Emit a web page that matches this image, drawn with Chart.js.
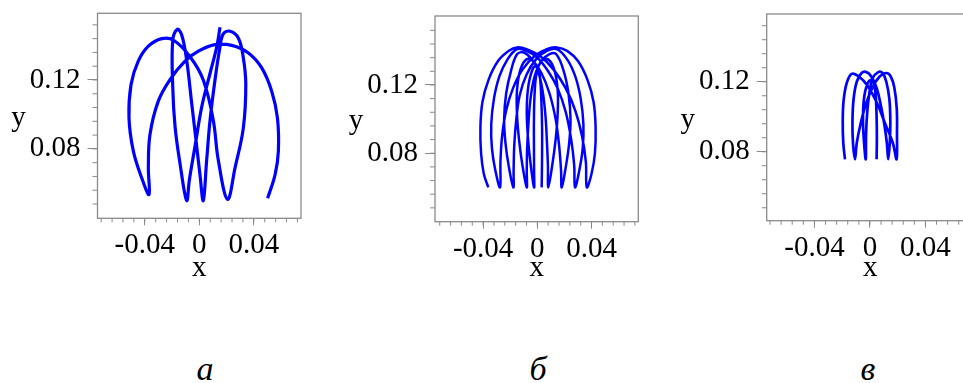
<!DOCTYPE html>
<html><head><meta charset="utf-8">
<script src="https://cdn.jsdelivr.net/npm/chart.js@4"></script>
<style>
html,body{margin:0;padding:0;background:#fff;}
body{width:963px;height:383px;overflow:hidden;position:relative;}
canvas{position:absolute;top:0;}
.cap{position:absolute;font-family:'Liberation Serif',serif;font-style:italic;font-size:34px;line-height:34px;top:352px;width:40px;text-align:center;color:#000;}
</style></head><body>
<canvas id="ca"></canvas>
<canvas id="cb"></canvas>
<canvas id="cc"></canvas>
<div class="cap" style="left:185px">а</div>
<div class="cap" style="left:518px">б</div>
<div class="cap" style="left:848px">в</div>
<script>
// ---- data ----
const xTickValues = [-0.04, 0, 0.04];
const xTickLabels = ['-0.04', '0', '0.04'];
const yTickValues = [0.08, 0.12];
const yTickLabels = ['0.08', '0.12'];

// panel а trajectory
const aX = [0.0152,0.0128,0.0079,0.0018,-0.0032,-0.0073,-0.0093,-0.0142,-0.0178,-0.0195,-0.0195,-0.0162,-0.0129,-0.0093,-0.0056,-0.0019,0.0005,0.0029,0.0054,0.0079,0.0115,0.0152,0.0176,0.0225,0.0286,0.0323,0.0341,0.0323,0.0262,0.0207,0.0139,0.0102,0.0029,-0.0068,-0.0191,-0.0276,-0.0374,-0.0448,-0.0501,-0.0516,-0.0484,-0.0423,-0.0369,-0.0374,-0.0362,-0.0301,-0.0215,-0.0105,-0.0007,0.0115,0.0238,0.0360,0.0458,0.0531,0.0573,0.0580,0.0556,0.0501];
const aY = [0.1506,0.1393,0.1239,0.1045,0.0813,0.0620,0.0500,0.0717,0.0929,0.1161,0.1432,0.1494,0.1461,0.1316,0.1065,0.0813,0.0649,0.0500,0.0736,0.0968,0.1200,0.1393,0.1467,0.1483,0.1444,0.1328,0.1173,0.0922,0.0690,0.0507,0.0736,0.0968,0.1200,0.1335,0.1432,0.1440,0.1396,0.1309,0.1173,0.0980,0.0787,0.0632,0.0535,0.0690,0.0883,0.1077,0.1202,0.1309,0.1367,0.1405,0.1401,0.1357,0.1270,0.1135,0.0980,0.0787,0.0651,0.0513];

// panel б trajectory
const bX = [-0.0362,-0.0395,-0.0415,-0.042,-0.0405,-0.036,-0.029,-0.021,-0.015,-0.008,0.002,0.012,0.021,0.028,0.033,0.0358,0.0365,
 0.040,0.0425,0.043,0.0415,0.037,0.030,0.022,0.0143,0.007,-0.002,-0.011,-0.018,-0.023,-0.026,-0.0272,-0.0275,
 -0.031,-0.0335,-0.034,-0.032,-0.028,-0.022,-0.015,-0.008,0.000,0.008,0.015,0.021,0.025,0.0272,0.0278,
 0.031,0.0335,0.034,0.032,0.028,0.022,0.0143,0.007,-0.001,-0.008,-0.013,-0.0155,-0.017,-0.0175,-0.0177,
 -0.021,-0.0235,-0.0245,-0.023,-0.0195,-0.015,-0.010,-0.004,0.003,0.009,0.0135,0.016,0.0175,0.018,
 0.021,0.0235,0.0245,0.023,0.0195,0.014,0.009,0.003,-0.002,-0.005,-0.0065,-0.0075,-0.0078,-0.0078,
 -0.011,-0.0135,-0.015,-0.015,-0.0125,-0.008,-0.003,0.001,0.004,0.006,0.007,0.0078,0.0081,
 0.011,0.0135,0.015,0.015,0.0125,0.008,0.003,-0.0005,-0.002,-0.0025,-0.0025,-0.0024,-0.0024,
 -0.005,-0.007,-0.0078,-0.0065,-0.003,0.000,0.002,0.003,0.0035,0.0035,0.0032];
const bY = [0.060,0.068,0.080,0.095,0.110,0.123,0.134,0.140,0.142,0.141,0.137,0.129,0.118,0.105,0.090,0.075,0.060,
 0.068,0.080,0.095,0.110,0.123,0.134,0.140,0.142,0.141,0.137,0.129,0.118,0.105,0.090,0.075,0.060,
 0.070,0.083,0.097,0.112,0.125,0.135,0.141,0.140,0.136,0.128,0.118,0.104,0.088,0.073,0.060,
 0.070,0.083,0.097,0.112,0.125,0.135,0.141,0.140,0.135,0.126,0.114,0.100,0.085,0.070,0.060,
 0.072,0.086,0.100,0.115,0.128,0.138,0.139,0.135,0.127,0.115,0.100,0.085,0.070,0.060,
 0.072,0.086,0.100,0.115,0.128,0.138,0.138,0.134,0.125,0.112,0.098,0.083,0.070,0.060,
 0.073,0.088,0.103,0.117,0.129,0.135,0.134,0.127,0.116,0.102,0.088,0.073,0.060,
 0.073,0.088,0.103,0.117,0.129,0.135,0.134,0.127,0.115,0.100,0.085,0.070,0.060,
 0.074,0.090,0.106,0.120,0.130,0.131,0.124,0.110,0.095,0.078,0.060];

// panel в trajectory
const cX = [-0.018,-0.0192,-0.0196,-0.019,-0.0168,-0.0132,-0.008,-0.002,0.005,0.011,0.0165,0.0192,
 0.0195,0.0193,0.0175,0.015,0.012,0.007,0.002,-0.003,-0.007,-0.0095,-0.0108,
 -0.0122,-0.0126,-0.0118,-0.0095,-0.006,-0.0025,0.001,0.005,0.008,0.0105,0.0122,0.0132,
 0.0143,0.0147,0.0140,0.0118,0.009,0.006,0.002,-0.0005,-0.002,-0.0028,-0.003,
 -0.0045,-0.005,-0.004,-0.001,0.002,0.004,0.0048,0.005,0.0048];
const cY = [0.0757,0.085,0.097,0.109,0.119,0.1245,0.123,0.118,0.108,0.096,0.085,0.0757,
 0.090,0.105,0.117,0.123,0.125,0.123,0.117,0.107,0.095,0.085,0.0757,
 0.085,0.097,0.110,0.120,0.125,0.1255,0.123,0.116,0.106,0.095,0.085,0.0757,
 0.085,0.097,0.110,0.120,0.125,0.1255,0.122,0.113,0.102,0.090,0.0757,
 0.088,0.100,0.112,0.120,0.121,0.113,0.100,0.088,0.0757];

// ---- drawing ----
const GRAY = '#8a8a8a';
const BLUE = '#0000ff';
const FONT = "'Liberation Serif', 'Times New Roman', serif";
const FS = 29;

function pts(xs, ys) { return xs.map((x, i) => ({x: x, y: ys[i]})); }

const deco = {
  id: 'deco',
  afterDraw(chart) {
    const {ctx, chartArea: ca} = chart;
    const xs = chart.scales.x, ys = chart.scales.y;
    ctx.save();
    ctx.strokeStyle = GRAY;
    ctx.lineWidth = 1.3;
    ctx.strokeRect(ca.left, ca.top, ca.right - ca.left, ca.bottom - ca.top);
    ctx.lineWidth = 1;
    ctx.beginPath();
    for (let i = -9; i <= 9; i++) {
      const px = xs.getPixelForValue(i * 0.008);
      if (px > ca.left + 1 && px < ca.right - 1) { ctx.moveTo(px, ca.bottom); ctx.lineTo(px, ca.bottom + 4); }
    }
    for (let i = 6; i <= 19; i++) {
      const py = ys.getPixelForValue(i * 0.008);
      if (py > ca.top + 1 && py < ca.bottom - 1) { ctx.moveTo(ca.left, py); ctx.lineTo(ca.left - 5, py); }
    }
    ctx.stroke();
    ctx.fillStyle = '#000';
    ctx.font = FS + 'px ' + FONT;
    ctx.textAlign = 'center';
    ctx.textBaseline = 'middle';
    ctx.fillText('y', ca.left - 79, (ca.top + ca.bottom) / 2 + 3);
    ctx.restore();
  }
};

function zeroPad(s) { s.paddingTop = 0; s.paddingBottom = 0; s.paddingLeft = 0; s.paddingRight = 0; }

function makePanel(id, cfg, xs, ysArr, lw) {
  const cv = document.getElementById(id);
  const canvasLeft = cfg.canvasLeft;
  const yW = cfg.boxLeft - canvasLeft;
  const W = Math.ceil(cfg.boxRight - canvasLeft + 6);
  const H = 300;
  cv.width = W; cv.height = H;
  cv.style.left = canvasLeft + 'px';
  cv.style.width = W + 'px'; cv.style.height = H + 'px';
  new Chart(cv, {
    type: 'scatter',
    data: { datasets: [{
      data: pts(xs, ysArr), showLine: true, borderColor: BLUE, borderWidth: lw,
      pointRadius: 0, tension: 0.38, fill: false
    }]},
    options: {
      responsive: false, animation: false, events: [],
      layout: { autoPadding: false, padding: { left: 0, top: cfg.boxTop, right: W - (cfg.boxRight - canvasLeft), bottom: 0 } },
      plugins: { legend: { display: false }, tooltip: { enabled: false } },
      scales: {
        x: {
          type: 'linear', min: cfg.xmin, max: cfg.xmax,
          afterBuildTicks: s => { s.ticks = xTickValues.map(v => ({value: v})); },
          afterFit: s => { s.height = H - cfg.boxBottom; zeroPad(s); },
          ticks: { autoSkip: false, maxRotation: 0, padding: 3, color: '#000',
                   font: { family: FONT, size: FS }, callback: (v, i) => xTickLabels[i] },
          grid: { drawOnChartArea: false, drawTicks: true, tickLength: 7, color: GRAY, lineWidth: 1 },
          border: { display: false },
          title: { display: true, text: 'x', color: '#000', font: { family: FONT, size: FS }, padding: { top: 0, bottom: 14 } }
        },
        y: {
          type: 'linear', min: cfg.ymin, max: cfg.ymax,
          afterBuildTicks: s => { s.ticks = yTickValues.map(v => ({value: v})); },
          afterFit: s => { s.width = yW; zeroPad(s); },
          ticks: { autoSkip: false, padding: 7, color: '#000',
                   font: { family: FONT, size: FS }, callback: (v, i) => yTickLabels[i] },
          grid: { drawOnChartArea: false, drawTicks: true, tickLength: 10, color: GRAY, lineWidth: 1 },
          border: { display: false }
        }
      }
    },
    plugins: [deco]
  });
}

makePanel('ca', {canvasLeft: 0, boxLeft: 97.5, boxRight: 301, boxTop: 13.3, boxBottom: 218.3,
  xmin: -0.0747, xmax: 0.0746, ymin: 0.0397, ymax: 0.1587}, aX, aY, 3.2);
makePanel('cb', {canvasLeft: 337, boxLeft: 435, boxRight: 638.3, boxTop: 16, boxBottom: 221.7,
  xmin: -0.0755, xmax: 0.0745, ymin: 0.0399, ymax: 0.1604}, bX, bY, 2.5);
makePanel('cc', {canvasLeft: 669, boxLeft: 766.7, boxRight: 974, boxTop: 14, boxBottom: 220.7,
  xmin: -0.0744, xmax: 0.075, ymin: 0.0406, ymax: 0.1587}, cX, cY, 2.7);
</script>
</body></html>
